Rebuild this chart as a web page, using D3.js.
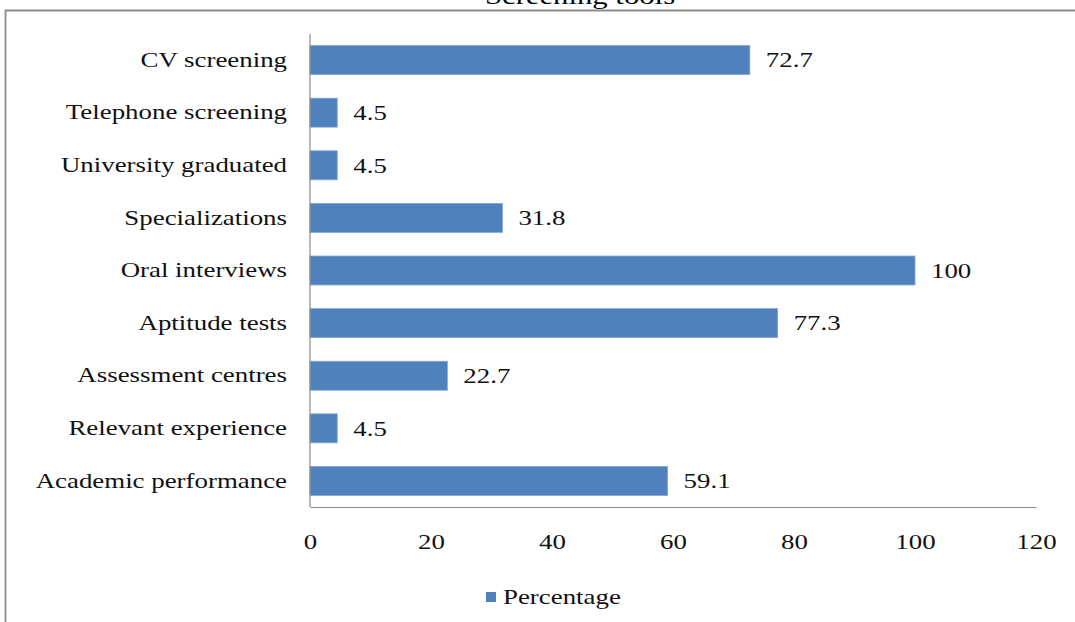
<!DOCTYPE html>
<html>
<head>
<meta charset="utf-8">
<script src="https://cdn.jsdelivr.net/npm/d3@7/dist/d3.min.js"></script>
<style>
  body { margin: 0; background: #fff; }
</style>
</head>
<body>
<div id="chart"></div>
<script>
// Screening tools - horizontal bar chart

const width = 1075;
const height = 622;

const categories = [
    "CV screening",
    "Telephone screening",
    "University graduated",
    "Specializations",
    "Oral interviews",
    "Aptitude tests",
    "Assessment centres",
    "Relevant experience",
    "Academic performance"
];
const percentages = [72.7, 4.5, 4.5, 31.8, 100, 77.3, 22.7, 4.5, 59.1];
const xTicks = [0, 20, 40, 60, 80, 100, 120];
const seriesName = "Percentage";
const title = "Screening tools";

const data = categories.map((c, i) => ({ category: c, value: percentages[i] }));

const margin = { top: 34, right: 39, bottom: 115, left: 310 };
const font = "'Liberation Serif', 'Times New Roman', serif";
const sx = 1.28; // the original's lettering is stretched sideways

const svg = d3.select("#chart")
    .append("svg")
    .attr("width", width)
    .attr("height", height)
    .style("background-color", "#ffffff");

// outer frame (only top and left edges show in the picture)
svg.append("path")
    .attr("d", `M5.5,${height} V10.5 H${width}`)
    .attr("fill", "none")
    .attr("stroke", "#8c8c8c")
    .attr("stroke-width", 1.8);

function stretched(sel, px, py) {
    return sel.attr("x", 0).attr("y", 0)
        .attr("transform", `translate(${px},${py}) scale(${sx},1)`)
        .style("font-family", font)
        .style("font-size", "21px")
        .style("fill", "#111");
}

stretched(svg.append("text"), 580, 4)
    .attr("text-anchor", "middle")
    .style("font-size", "24px")
    .style("fill", "#000")
    .text(title);

const x = d3.scaleLinear()
    .domain([0, 120])
    .range([margin.left, width - margin.right]);

const y = d3.scaleBand()
    .domain(categories)
    .range([margin.top, height - margin.bottom])
    .paddingInner(0.45)
    .paddingOuter(0.22);

// bars
svg.selectAll("rect.bar")
    .data(data)
    .enter()
    .append("rect")
    .attr("class", "bar")
    .attr("x", x(0))
    .attr("y", d => y(d.category))
    .attr("width", d => x(d.value) - x(0))
    .attr("height", y.bandwidth())
    .attr("fill", "#4f81bd")
    .attr("stroke", "#7fa3d0")
    .attr("stroke-width", 0.8);

// value labels
svg.selectAll("text.value")
    .data(data)
    .enter()
    .append("text")
    .attr("class", "value")
    .each(function(d) {
        stretched(d3.select(this), x(d.value) + 16, y(d.category) + y.bandwidth() / 2);
    })
    .attr("dy", "0.35em")
    .text(d => d.value);

// y axis
const yAxis = svg.append("g")
    .attr("transform", `translate(${x(0)},0)`)
    .call(d3.axisLeft(y).tickSize(0).tickPadding(23));
yAxis.select(".domain").attr("stroke", "#8c8c8c").attr("stroke-width", 1.2)
    .attr("d", `M0,${margin.top}V${height - margin.bottom}`);
yAxis.selectAll("text")
    .attr("x", -23 / sx)
    .attr("transform", `scale(${sx},1)`)
    .style("font-family", font)
    .style("font-size", "21px")
    .style("fill", "#111");

// x axis
const xAxis = svg.append("g")
    .attr("transform", `translate(0,${height - margin.bottom})`)
    .call(d3.axisBottom(x).tickValues(xTicks).tickSize(0).tickPadding(27));
xAxis.select(".domain").attr("stroke", "#8c8c8c").attr("stroke-width", 1.2);
xAxis.selectAll("text")
    .attr("transform", `scale(${sx},1)`)
    .style("font-family", font)
    .style("font-size", "21px")
    .style("fill", "#111");

// legend
const legend = svg.append("g")
    .attr("transform", "translate(486,592)");
legend.append("rect")
    .attr("width", 10)
    .attr("height", 10)
    .attr("fill", "#4f81bd");
stretched(legend.append("text"), 17, 5)
    .attr("dy", "0.35em")
    .text(seriesName);
</script>
</body>
</html>
